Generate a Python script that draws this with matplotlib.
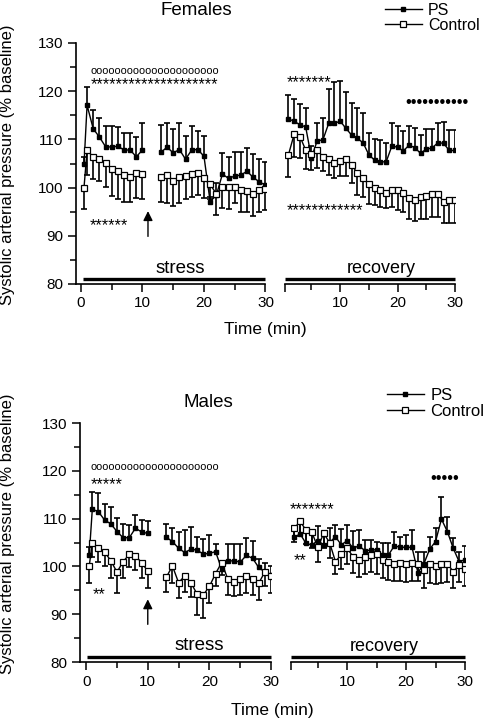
import numpy as np
import matplotlib
matplotlib.use("Agg")
import matplotlib.pyplot as plt
from matplotlib.lines import Line2D

plt.rcParams['font.family'] = ['Liberation Sans', 'DejaVu Sans']

# time points (min); stress has a gap at 11-12 min (arrow), recovery is 1..30
t_stress = [0.5, 1, 2, 3, 4, 5, 6, 7, 8, 9, 10,
            13, 14, 15, 16, 17, 18, 19, 20,
            21, 22, 23, 24, 25, 26, 27, 28, 29, 30]
t_rec = list(range(1, 31))

# ---- Females ----
f_ps_stress = [104.8, 117.1, 112.2, 110.5, 108.5, 108.4, 108.6, 107.8, 107.8, 106.4, 107.8,
               107.3, 108.4, 107.2, 107.9, 105.9, 107.8, 107.9, 106.5,
               97.1, 98.4, 102.8, 101.9, 102.4, 102.6, 103.4, 102.1, 101.2, 100.5]
f_ps_stress_err = [1.5, 3.7, 3.8, 4.0, 4.3, 4.4, 4.0, 3.5, 3.5, 4.2, 5.5,
                   5.7, 5.1, 4.9, 5.4, 4.8, 5.0, 3.9, 4.2,
                   1.0, 2.5, 4.3, 4.4, 4.9, 4.7, 4.8, 4.9, 4.7, 4.9]
f_ctrl_stress = [100.0, 107.7, 106.4, 105.9, 105.2, 103.8, 103.5, 102.6, 102.1, 103.1, 102.8,
                 102.2, 102.7, 101.4, 102.1, 102.5, 102.8, 103.0, 101.9,
                 100.7, 98.7, 100.2, 100.1, 100.2, 99.4, 99.2, 98.6, 99.6, 99.8]
f_ctrl_stress_err = [4.4, 5.0, 4.7, 4.6, 5.0, 5.6, 5.8, 5.5, 5.0, 5.3, 5.2,
                     5.2, 5.9, 5.2, 5.2, 4.9, 4.8, 4.5, 4.1,
                     3.0, 4.3, 4.5, 4.6, 3.4, 4.4, 4.2, 4.5, 4.6, 4.4]
f_ps_rec = [114.2, 113.8, 113.0, 112.6, 106.2, 109.7, 109.9, 113.3, 113.3, 113.8,
            112.3, 110.9, 110.2, 109.3, 106.8, 105.7, 105.4, 105.3, 108.6, 108.4,
            107.6, 108.8, 108.3, 107.1, 108.0, 108.2, 109.3, 109.2, 107.7, 107.7]
f_ps_rec_err = [5.0, 4.5, 4.3, 3.9, 2.5, 3.6, 4.5, 7.1, 8.7, 8.4,
                7.5, 6.6, 6.4, 6.1, 4.6, 4.4, 4.5, 4.0, 4.9, 4.4,
                4.1, 4.0, 4.1, 3.8, 4.2, 4.0, 4.2, 4.4, 4.2, 4.2]
f_ctrl_rec = [106.8, 111.1, 110.6, 107.8, 106.9, 107.8, 106.4, 105.9, 105.2, 105.6,
              105.9, 104.7, 103.0, 101.9, 100.7, 100.0, 99.5, 98.9, 99.6, 99.5,
              98.9, 97.9, 97.4, 98.1, 98.3, 98.7, 98.7, 97.1, 97.4, 97.4]
f_ctrl_rec_err = [4.5, 4.7, 4.5, 4.0, 3.3, 3.8, 3.0, 3.3, 3.3, 3.2,
                  3.5, 3.8, 4.5, 3.8, 4.1, 3.6, 3.5, 3.2, 3.6, 4.1,
                  3.9, 4.5, 4.3, 4.7, 4.9, 4.7, 4.7, 4.5, 4.8, 4.8]

# ---- Males ----
m_ps_stress = [102.4, 112.0, 111.4, 109.7, 108.9, 107.3, 106.0, 106.0, 108.0, 107.2, 106.9,
               106.1, 105.2, 103.8, 102.9, 103.6, 103.4, 102.6, 102.7,
               103.1, 99.4, 101.1, 101.2, 100.9, 102.3, 101.7, 99.8, 98.8, 98.3]
m_ps_stress_err = [1.7, 3.5, 3.9, 3.3, 3.6, 2.8, 2.8, 2.7, 2.8, 2.5, 2.6,
                   2.7, 2.8, 3.5, 4.7, 4.6, 2.8, 3.1, 3.9,
                   1.6, 1.5, 3.6, 3.5, 3.8, 3.7, 3.6, 1.7, 2.0, 1.8]
m_ctrl_stress = [100.1, 105.0, 103.8, 103.0, 101.2, 98.8, 101.0, 102.5, 102.2, 100.8, 99.0,
                 97.7, 100.1, 96.6, 98.0, 96.6, 94.2, 94.0, 95.8,
                 98.5, 100.8, 97.3, 96.8, 97.3, 97.9, 97.3, 96.5, 98.8, 98.0]
m_ctrl_stress_err = [3.5, 3.0, 2.8, 3.0, 3.7, 4.4, 3.5, 2.7, 3.0, 3.3, 3.5,
                     3.0, 3.6, 3.3, 3.3, 2.9, 4.4, 4.7, 3.5,
                     2.7, 2.5, 3.3, 3.0, 3.3, 3.5, 3.3, 3.6, 3.0, 3.5]
m_ps_rec = [106.1, 106.8, 104.8, 104.5, 105.4, 104.5, 105.0, 106.2, 104.5, 105.4,
            103.8, 104.3, 103.3, 103.4, 103.5, 102.4, 102.4, 104.3, 104.0, 104.0,
            104.0, 98.7, 100.5, 103.6, 105.2, 109.9, 107.3, 103.8, 101.0, 101.4]
m_ps_rec_err = [2.0, 2.5, 2.5, 2.8, 3.0, 2.0, 3.0, 2.5, 3.3, 3.3,
                3.6, 3.3, 2.2, 2.1, 1.7, 2.5, 2.5, 3.0, 2.2, 2.5,
                3.6, 4.4, 2.6, 2.5, 2.8, 4.6, 3.1, 2.1, 2.0, 2.9]
m_ctrl_rec = [108.0, 109.4, 107.6, 107.1, 104.0, 106.9, 105.0, 101.0, 102.5, 103.8,
              102.0, 101.3, 102.0, 102.4, 102.5, 101.3, 101.0, 100.6, 100.7, 100.6,
              100.8, 100.5, 99.2, 100.5, 100.1, 100.4, 100.6, 98.9, 100.3, 99.5]
m_ctrl_rec_err = [2.8, 3.0, 3.0, 3.2, 3.0, 3.0, 3.2, 2.6, 3.0, 3.2,
                  3.4, 3.5, 3.5, 3.6, 4.0, 3.8, 3.8, 3.7, 3.8, 3.8,
                  3.8, 3.6, 3.8, 3.9, 3.8, 3.8, 3.8, 3.5, 3.6, 3.6]

W, H = 488, 720
fig = plt.figure(figsize=(W / 100, H / 100), dpi=100)


def px_axes(x0, x1, y_top, y_bot):
    return fig.add_axes([x0 / W, 1 - y_bot / H, (x1 - x0) / W, (y_bot - y_top) / H])


def draw_group(ax, t, mean, err, filled, up):
    t = np.asarray(t, float)
    mean = np.asarray(mean, float)
    err = np.asarray(err, float)
    ends = mean + err if up else mean - err
    ax.vlines(t, mean, ends, color='k', lw=1.2, zorder=2)
    ax.plot(t, ends, ls='none', marker='_', ms=4.5, mew=1.2, color='k', zorder=2)
    breaks = np.where(np.diff(t) > 1.5)[0] + 1
    for seg_t, seg_m in zip(np.split(t, breaks), np.split(mean, breaks)):
        ax.plot(seg_t, seg_m, color='k', lw=1.0, zorder=3)
    if filled:
        ax.plot(t, mean, ls='none', marker='s', ms=3.5, mfc='k', mec='k', zorder=4)
    else:
        ax.plot(t, mean, ls='none', marker='s', ms=4.2, mfc='white', mec='k', mew=0.9, zorder=5)


def style(ax, xmin, left):
    ax.set_xlim(xmin, 30)
    ax.set_ylim(80, 130)
    ax.spines[['top', 'right']].set_visible(False)
    for s in ax.spines.values():
        s.set_linewidth(1.2)
    if left:
        ax.set_xticks([0, 10, 20, 30])
        ax.set_yticks(range(80, 131, 10))
        ax.set_yticks(range(85, 130, 10), minor=True)
    else:
        ax.spines['left'].set_visible(False)
        ax.set_yticks([])
        ax.set_xticks([xmin, 10, 20, 30])
        ax.set_xticklabels(['', '10', '20', '30'])
    ax.set_xticks([5, 15, 25], minor=True)
    ax.tick_params(which='major', length=6, width=1.1, labelsize=11, pad=3)
    ax.tick_params(which='minor', length=4, width=1.1)


def sig(ax, x, y, s, size):
    ax.text(x, y, s, fontsize=size, ha='left', va='center', clip_on=False)


def panel(top, bot, lx, rx, xmin_l, xmin_r, ps_s, ps_se, c_s, c_se, ps_r, ps_re, c_r, c_re):
    axl = px_axes(lx[0], lx[1], top, bot)
    axr = px_axes(rx[0], rx[1], top, bot)
    style(axl, xmin_l, True)
    style(axr, xmin_r, False)
    draw_group(axl, t_stress, ps_s, ps_se, True, True)
    draw_group(axl, t_stress, c_s, c_se, False, False)
    draw_group(axr, t_rec, ps_r, ps_re, True, True)
    draw_group(axr, t_rec, c_r, c_re, False, False)
    return axl, axr


# Females
axl, axr = panel(43, 284, (76, 265.5), (285, 455), -0.8, 0.4,
                 f_ps_stress, f_ps_stress_err, f_ctrl_stress, f_ctrl_stress_err,
                 f_ps_rec, f_ps_rec_err, f_ctrl_rec, f_ctrl_rec_err)
axl.plot([0.3, 30], [81, 81], color='k', lw=2.4, solid_capstyle='butt', clip_on=False)
axr.plot([0.4, 30], [81, 81], color='k', lw=2.4, solid_capstyle='butt', clip_on=False)
axl.text(16.2, 82.3, 'stress', fontsize=13.5, ha='center', va='baseline')
axr.text(17.2, 82.2, 'recovery', fontsize=13, ha='center', va='baseline')
axl.annotate('', xy=(10.9, 95.7), xytext=(10.9, 89.3),
             arrowprops=dict(arrowstyle='-|>', color='k', lw=1.0, mutation_scale=14))
sig(axl, 1.5, 124.2, 'o' * 21, 7.9)
sig(axl, 1.6, 121.3, '*' * 20, 11.7)
sig(axl, 1.5, 92.2, '*' * 6, 11.7)
sig(axr, 0.73, 121.8, '*' * 7, 11.7)
sig(axr, 0.73, 95.3, '*' * 12, 11.7)
sig(axr, 21.3, 117.6, '\u2022' * 11, 12)

# Males
axl2, axr2 = panel(423, 662, (80, 271), (291, 465), -1.0, 0.45,
                   m_ps_stress, m_ps_stress_err, m_ctrl_stress, m_ctrl_stress_err,
                   m_ps_rec, m_ps_rec_err, m_ctrl_rec, m_ctrl_rec_err)
axl2.plot([0.2, 30], [81, 81], color='k', lw=2.4, solid_capstyle='butt', clip_on=False)
axr2.plot([0.45, 30], [81, 81], color='k', lw=2.4, solid_capstyle='butt', clip_on=False)
axl2.text(18.3, 82.5, 'stress', fontsize=13.5, ha='center', va='baseline')
axr2.text(16.3, 82.2, 'recovery', fontsize=13, ha='center', va='baseline')
axl2.annotate('', xy=(10.0, 93.7), xytext=(10.0, 87.3),
              arrowprops=dict(arrowstyle='-|>', color='k', lw=1.0, mutation_scale=14))
sig(axl2, 0.76, 120.7, 'o' * 21, 7.9)
sig(axl2, 0.76, 117.0, '*' * 5, 11.7)
sig(axl2, 1.1, 94.0, '*' * 2, 11.7)
sig(axr2, 0.3, 111.8, '*' * 7, 11.7)
sig(axr2, 0.85, 101.3, '*' * 2, 11.7)
sig(axr2, 24.1, 118.3, '\u2022' * 5, 12)

# titles, axis labels
fig.text(196 / W, 1 - 15 / H, 'Females', fontsize=13.5, ha='center', va='baseline')
fig.text(208 / W, 1 - 406.7 / H, 'Males', fontsize=13.5, ha='center', va='baseline')
ylab = 'Systolic arterial pressure (% baseline)'
fig.text(8 / W, 1 - 165 / H, ylab, fontsize=12, rotation=90, ha='center', va='center')
fig.text(8 / W, 1 - 534 / H, ylab, fontsize=12, rotation=90, ha='center', va='center')
fig.text(265 / W, 1 - 330 / H, 'Time (min)', fontsize=12.5, ha='center', va='center')
fig.text(272 / W, 1 - 710 / H, 'Time (min)', fontsize=12.5, ha='center', va='center')

# legends
handles = [Line2D([], [], color='k', lw=1.0, marker='s', ms=3.5, mfc='k', mec='k'),
           Line2D([], [], color='k', lw=1.0, marker='s', ms=4.2, mfc='white', mec='k', mew=0.9)]
fig.legend(handles, ['PS', 'Control'], loc='upper left', bbox_to_anchor=(385 / W, 1 - 3 / H),
           frameon=False, fontsize=11.5, handlelength=2.3, handletextpad=0.4,
           labelspacing=0.0, borderpad=0, borderaxespad=0, numpoints=1)
fig.legend(handles, ['PS', 'Control'], loc='upper left', bbox_to_anchor=(387 / W, 1 - 388 / H),
           frameon=False, fontsize=12, handlelength=2.2, handletextpad=0.4,
           labelspacing=0.05, borderpad=0, borderaxespad=0, numpoints=1)

fig.savefig('out.png', dpi=100)
